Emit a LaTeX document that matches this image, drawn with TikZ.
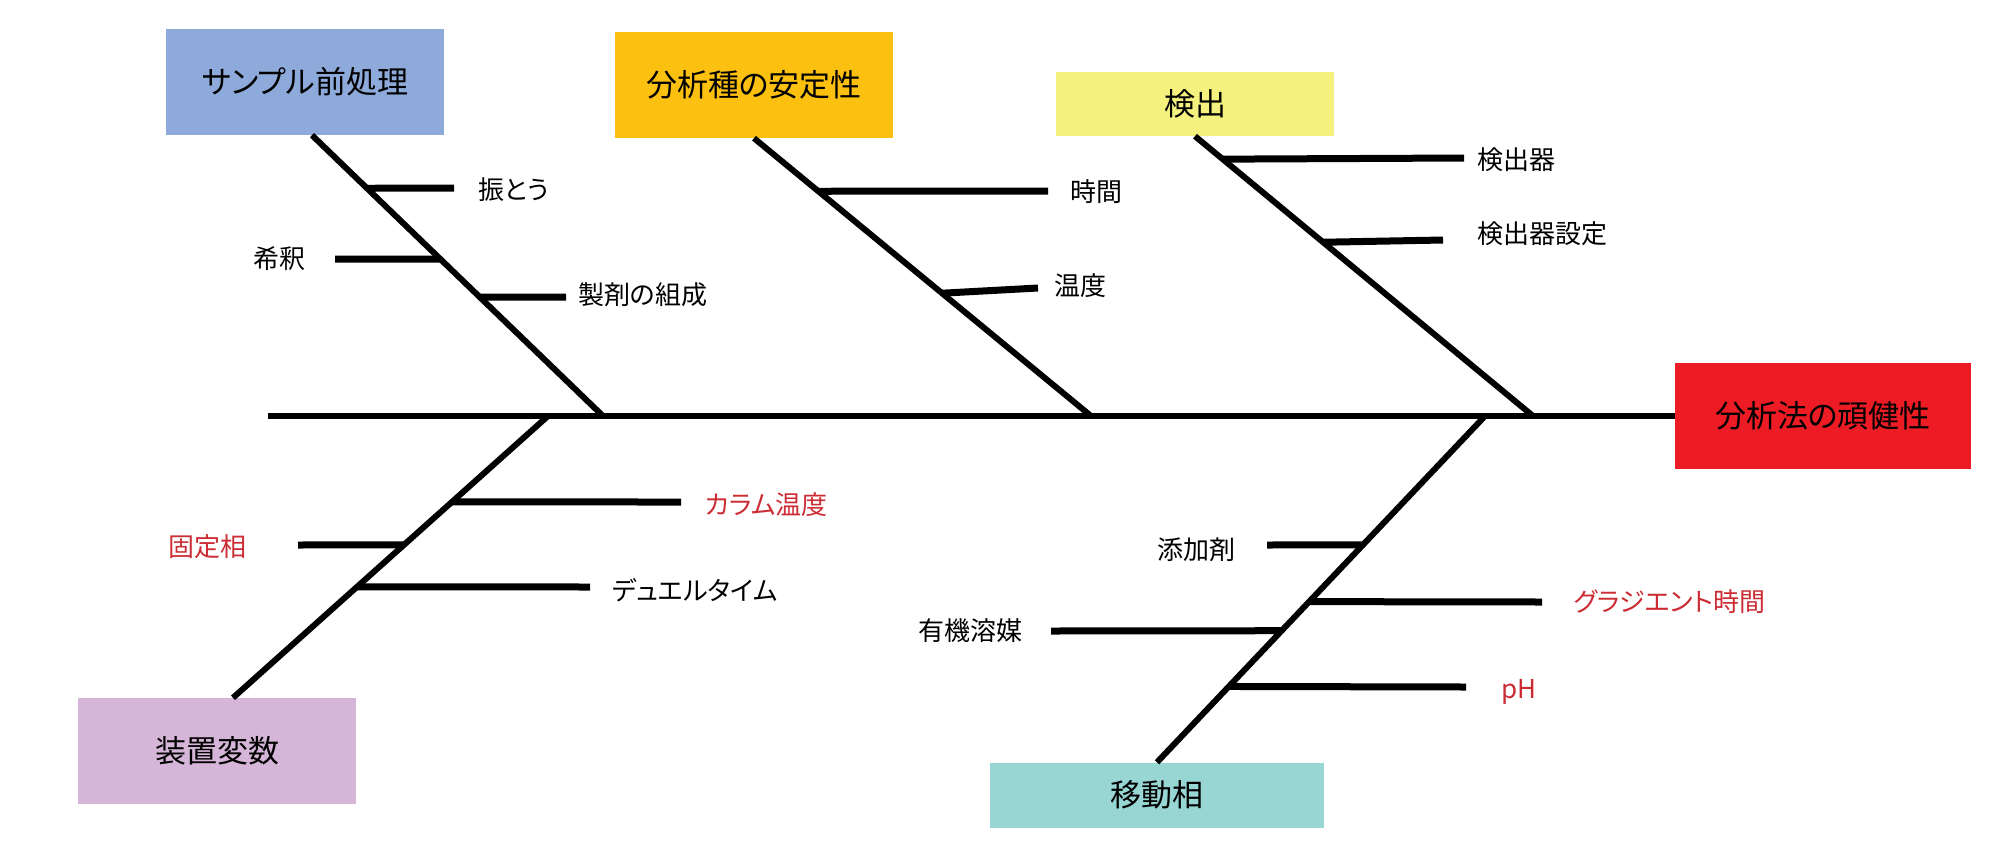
\documentclass[tikz,border=0pt]{standalone}
\usepackage{fontspec}
\setmainfont{Noto Sans CJK JP}[RawFeature=+palt]
\usetikzlibrary{calc}

\definecolor{cazul}{RGB}{142,170,219}
\definecolor{cdour}{RGB}{252,192,16}
\definecolor{camar}{RGB}{245,241,126}
\definecolor{cverm}{RGB}{237,28,36}
\definecolor{clil}{RGB}{214,182,216}
\definecolor{cverde}{RGB}{152,214,212}
\definecolor{tverm}{RGB}{204,45,52}

\tikzset{
	cat/.style={minimum width=278pt, minimum height=106pt, inner sep=0pt, font=\fontsize{31}{36}\selectfont},
	lbl/.style={inner sep=0pt, font=\fontsize{26}{31}\selectfont},
	osso/.style={line width=6pt},
	ramo/.style={line width=7pt}
}

\begin{document}
\begin{tikzpicture}[x=1pt,y=-1pt]
		\useasboundingbox (0,0) rectangle (2000,855);
		
		% Categorias
		\node[cat, fill=cazul] (c1) at (305,82) {サンプル前処理};
		\node[cat, fill=cdour] (c2) at (754,85) {分析種の安定性};
		\node[cat, fill=camar, minimum height=64pt] (c3) at (1195,104) {検出};
		\node[cat, fill=clil] (c4) at (217,751) {装置変数};
		\node[cat, fill=cverde, minimum width=334pt, minimum height=65pt] (c5) at (1157,795) {移動相};
		\node[cat, fill=cverm, minimum width=296pt] (ef) at (1823,416) {分析法の頑健性};	% Efeito
		
		% Espinha principal
		\coordinate (s0) at (268,416);
		\coordinate (j1) at (603,416);
		\coordinate (j2) at (1091,416);
		\coordinate (j3) at (1533,416);
		\coordinate (j4) at (548,416);
		\coordinate (j5) at (1485,416);
		\draw[osso] (s0) -- (ef.west);
		
		% Ossos
		\draw[osso] ([xshift=7pt]c1.south) -- (j1);
		\draw[osso] (c2.south) -- (j2);
		\draw[osso] (c3.south) -- (j3);
		\draw[osso] (j4) -- ([xshift=16pt]c4.north);
		\draw[osso] (j5) -- (c5.north);
		
		% Causas (c1)
		\node[lbl, anchor=west] (k1) at (478,190) {振とう};
		\node[lbl, anchor=east] (k2) at (306,259) {希釈};
		\node[lbl, anchor=west] (k3) at (578,295) {製剤の組成};
		\coordinate (r1) at (454,188);
		\coordinate (r2) at (335,259);
		\coordinate (r3) at (566,297);
		\draw[ramo] ($([xshift=7pt]c1.south)!.189!(j1)$) -- (r1);
		\draw[ramo] ($([xshift=7pt]c1.south)!.441!(j1)$) -- (r2);
		\draw[ramo] ($([xshift=7pt]c1.south)!.577!(j1)$) -- (r3);
		
		% Causas (c2)
		\node[lbl, anchor=west] (k4) at (1070,192) {時間};
		\node[lbl, anchor=west] (k5) at (1054,286) {温度};
		\coordinate (r4) at (1048,191);
		\coordinate (r5) at (1038,288);
		\draw[ramo] ($(c2.south)!.191!(j2)$) -- (r4);
		\draw[ramo] ($(c2.south)!.558!(j2)$) -- (r5);
		
		% Causas (c3)
		\node[lbl, anchor=west] (k6) at (1477,160) {検出器};
		\node[lbl, anchor=west] (k7) at (1477,234) {検出器設定};
		\coordinate (r6) at (1464,158);
		\coordinate (r7) at (1443,240);
		\draw[ramo] ($(c3.south)!.082!(j3)$) -- (r6);
		\draw[ramo] ($(c3.south)!.379!(j3)$) -- (r7);
		
		% Causas (c4)
		\node[lbl, anchor=west, text=tverm] (k8) at (705,505) {カラム温度};
		\node[lbl, anchor=east, text=tverm] (k9) at (247,547) {固定相};
		\node[lbl, anchor=west] (k10) at (612,590) {デュエルタイム};
		\coordinate (r8) at (681,502);
		\coordinate (r9) at (298,545);
		\coordinate (r10) at (590,587);
		\draw[ramo] ($(j4)!.305!([xshift=16pt]c4.north)$) -- (r8);
		\draw[ramo] ($(j4)!.457!([xshift=16pt]c4.north)$) -- (r9);
		\draw[ramo] ($(j4)!.606!([xshift=16pt]c4.north)$) -- (r10);
		
		% Causas (c5)
		\node[lbl, anchor=east] (k11) at (1236,550) {添加剤};
		\node[lbl, anchor=west, text=tverm] (k12) at (1574,602) {グラジエント時間};
		\node[lbl, anchor=east] (k13) at (1023,631) {有機溶媒};
		\node[lbl, anchor=west, text=tverm] (k14) at (1501,692) {pH};
		\coordinate (r11) at (1267,545);
		\coordinate (r12) at (1542,602);
		\coordinate (r13) at (1051,631);
		\coordinate (r14) at (1466,687);
		\draw[ramo] ($(j5)!.372!(c5.north)$) -- (r11);
		\draw[ramo] ($(j5)!.536!(c5.north)$) -- (r12);
		\draw[ramo] ($(j5)!.620!(c5.north)$) -- (r13);
		\draw[ramo] ($(j5)!.781!(c5.north)$) -- (r14);
\end{tikzpicture}
\end{document}
